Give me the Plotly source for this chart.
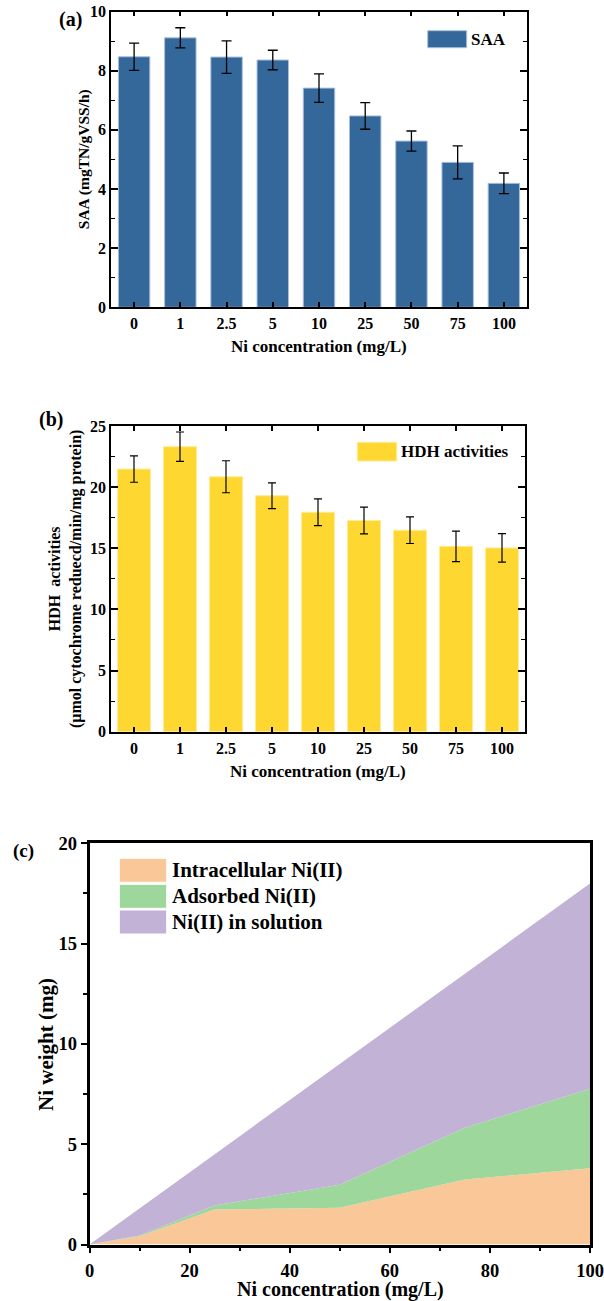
import plotly.graph_objects as go

# ---------------- data ----------------
conc_labels = ["0", "1", "2.5", "5", "10", "25", "50", "75", "100"]

saa = [8.47, 9.11, 8.46, 8.36, 7.41, 6.47, 5.62, 4.90, 4.19]
saa_err = [0.46, 0.34, 0.55, 0.33, 0.48, 0.45, 0.34, 0.56, 0.35]

hdh = [21.48, 23.31, 20.85, 19.30, 17.95, 17.27, 16.48, 15.16, 15.03]
hdh_err = [1.08, 1.20, 1.31, 1.05, 1.09, 1.09, 1.09, 1.25, 1.17]

ni_x = [0, 1, 2.5, 5, 10, 25, 50, 75, 100]
intracellular = [0, 0.04, 0.10, 0.20, 0.41, 1.74, 1.83, 3.24, 3.80]
adsorbed = [0, 0.005, 0.01, 0.02, 0.04, 0.21, 1.15, 2.58, 3.97]
in_solution = [0, 0.135, 0.34, 0.68, 1.35, 2.55, 6.02, 7.68, 10.23]

# ---------------- helpers ----------------
W, H = 604, 1301
FONT = "Liberation Serif"


def xp(px):
    return px / W


def yp(py):
    return 1 - py / H


def f(size):
    return dict(family=FONT, size=size, color="black", weight="bold")


BLUE = "#34679A"
YELLOW = "#FED830"
ORANGE = "#FAC898"
GREEN = "#9ED79C"
PURPLE = "#C2B2D6"

fig = go.Figure()

fig.add_trace(go.Bar(
    x=conc_labels, y=saa, xaxis="x", yaxis="y", width=0.68,
    marker=dict(color=BLUE, line=dict(color="#A8BFDA", width=1)),
    error_y=dict(type="data", array=saa_err, color="black", thickness=1.3, width=5),
    showlegend=False, name="SAA"))

fig.add_trace(go.Bar(
    x=conc_labels, y=hdh, xaxis="x2", yaxis="y2", width=0.72,
    marker=dict(color=YELLOW, line=dict(color="#FFEB99", width=1)),
    error_y=dict(type="data", array=hdh_err, color="black", thickness=1.2, width=4),
    showlegend=False, name="HDH activities"))

for name, vals, col in [("Intracellular Ni(II)", intracellular, ORANGE),
                        ("Adsorbed Ni(II)", adsorbed, GREEN),
                        ("Ni(II) in solution", in_solution, PURPLE)]:
    fig.add_trace(go.Scatter(
        x=ni_x, y=vals, xaxis="x3", yaxis="y3", stackgroup="one",
        mode="lines", line=dict(width=0, color=col), fillcolor=col,
        showlegend=False, name=name))

common_ab = dict(showline=True, linecolor="black", linewidth=1.8, mirror="ticks",
                 ticks="inside", tickcolor="black", tickwidth=1.5, automargin=False,
                 showgrid=False, zeroline=False, tickfont=f(16))

fig.update_layout(
    width=W, height=H, margin=dict(l=0, r=0, t=0, b=0, pad=0, autoexpand=False),
    paper_bgcolor="white", plot_bgcolor="white",
    font=dict(family=FONT, color="black"),
    xaxis=dict(domain=[xp(111), xp(527)], anchor="y", type="category",
               range=[-0.5, 8.5], ticklen=5, ticklabelstandoff=1, **common_ab),
    yaxis=dict(domain=[yp(307.3), yp(11.5)], anchor="x", range=[0, 10], dtick=2,
               ticklen=7, minor=dict(dtick=1, ticks="inside", ticklen=4,
                                     tickcolor="black", tickwidth=1.2),
               **common_ab),
    xaxis2=dict(domain=[xp(111), xp(525)], anchor="y2", type="category",
                range=[-0.5, 8.5], ticklen=5, ticklabelstandoff=1, **common_ab),
    yaxis2=dict(domain=[yp(731.7), yp(426)], anchor="x2", range=[0, 25], dtick=5,
                ticklen=7, minor=dict(dtick=2.5, ticks="inside", ticklen=4,
                                      tickcolor="black", tickwidth=1.2),
                **common_ab),
    xaxis3=dict(domain=[xp(89.5), xp(590)], anchor="y3", range=[0, 100], dtick=20,
                showline=True, linecolor="black", linewidth=2.6, mirror=True,
                ticks="outside", ticklen=6, tickwidth=2, tickcolor="black",
                minor=dict(dtick=10, ticks="outside", ticklen=4, tickwidth=1.5,
                           tickcolor="black"),
                ticklabelstandoff=1, automargin=False, ticklabeloverflow="allow",
                showgrid=False, zeroline=False, tickfont=f(18.5)),
    yaxis3=dict(domain=[yp(1244.5), yp(843.3)], anchor="x3", range=[0, 20], dtick=5,
                showline=True, linecolor="black", linewidth=2.6, mirror=True,
                ticks="outside", ticklen=6, tickwidth=2, tickcolor="black",
                minor=dict(dtick=2.5, ticks="outside", ticklen=4, tickwidth=1.5,
                           tickcolor="black"),
                automargin=False,
                showgrid=False, zeroline=False, tickfont=f(18.5)),
)

ann = []
shapes = []


def text(x, y, s, size, xanchor="center", angle=0):
    ann.append(dict(x=xp(x), y=yp(y), xref="paper", yref="paper", text=s,
                    showarrow=False, font=f(size), xanchor=xanchor,
                    yanchor="middle", textangle=angle))


def rect(x0, y0, x1, y1, col, line_col=None):
    shapes.append(dict(type="rect", xref="paper", yref="paper",
                       x0=xp(x0), x1=xp(x1), y0=yp(y1), y1=yp(y0),
                       fillcolor=col,
                       line=dict(color=line_col or col, width=1)))


# panel labels
text(70, 20, "(a)", 20)
text(51, 419, "(b)", 20)
text(23.3, 850.7, "(c)", 19)

# axis titles
text(84.7, 159.5, "SAA (mgTN/gVSS/h)", 15.5, angle=-90)
text(319, 346, "Ni concentration (mg/L)", 17)
text(65, 579, "HDH  activities<br>(μmol cytochrome reduecd/min/mg protein)", 16, angle=-90)
text(318, 771, "Ni concentration (mg/L)", 17)
text(46, 1045, "Ni weight (mg)", 21, angle=-90)
text(340, 1289, "Ni concentration (mg/L)", 20)

# legends
rect(427.7, 30.7, 466.7, 47.7, BLUE, "#A8BFDA")
text(468.5, 39.2, "SAA", 17, xanchor="left")
rect(357.3, 442.3, 396.7, 461, YELLOW, "#FFEB99")
text(399, 451.7, "HDH activities", 17, xanchor="left")
for (y0, y1), col, s in zip([(858.3, 882.3), (884.3, 908.3), (910, 934)],
                            [ORANGE, GREEN, PURPLE],
                            ["Intracellular Ni(II)", "Adsorbed Ni(II)", "Ni(II) in solution"]):
    rect(119.3, y0, 166.7, y1, col, "white")
    text(170, (y0 + y1) / 2, s, 21, xanchor="left")

fig.update_layout(annotations=ann, shapes=shapes)

fig.write_html("out.html", config={"displayModeBar": False})
